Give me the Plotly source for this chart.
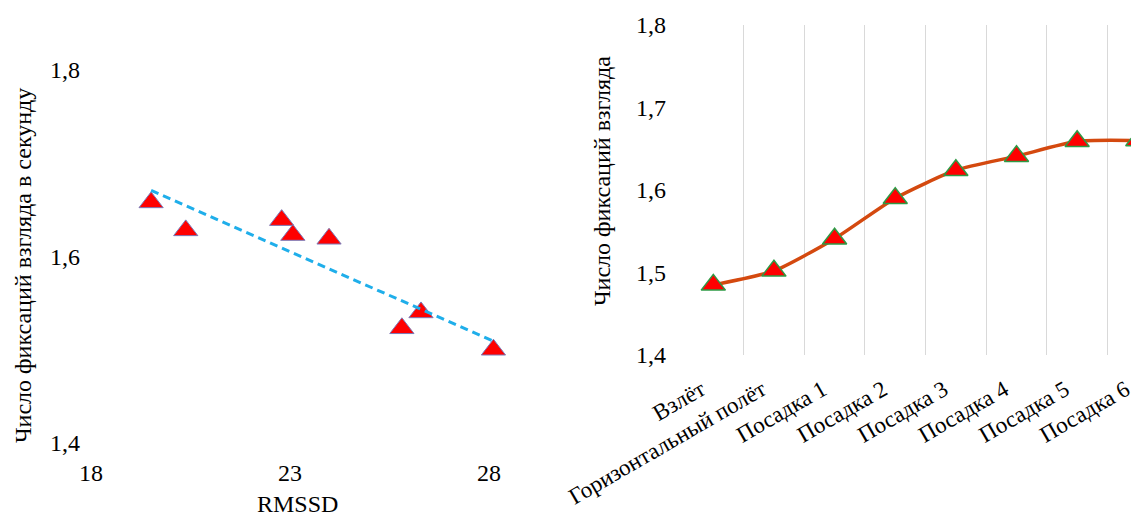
import numpy as np
import plotly.graph_objects as go

# Left chart data
rmssd = [19.51, 20.38, 22.79, 23.07, 23.98, 25.81, 26.29, 28.11]
fixations_per_sec = [1.658, 1.628, 1.639, 1.623, 1.619, 1.523, 1.540, 1.500]

# Right chart data
phases = ["Взлёт", "Горизонтальный полёт", "Посадка 1", "Посадка 2",
          "Посадка 3", "Посадка 4", "Посадка 5", "Посадка 6"]
fixations = [1.485, 1.502, 1.541, 1.590, 1.624, 1.641, 1.659, 1.660]

left_yticks = [1.4, 1.6, 1.8]
left_xticks = [18, 23, 28]
right_yticks = [1.4, 1.5, 1.6, 1.7, 1.8]

def fmt(v):
    return f"{v:g}".replace(".", ",")

# page body has an 8px margin, so the figure is placed at (8, 8)
OFF = 8
W, H = 1139 - OFF, 516 - OFF
FONT = "Liberation Serif"
FS = 24

fig = go.Figure()

fig.add_trace(go.Scatter(
    x=rmssd, y=fixations_per_sec, mode="markers",
    marker=dict(symbol="triangle-up", size=21, color="#FF0000",
                line=dict(color="#7A7AB8", width=1)),
    cliponaxis=False, xaxis="x", yaxis="y", showlegend=False))

coef = np.polyfit(rmssd, fixations_per_sec, 1)
tx = np.array([min(rmssd), max(rmssd)])
fig.add_trace(go.Scatter(
    x=tx, y=np.polyval(coef, tx), mode="lines",
    line=dict(color="#1FAEEA", width=3, dash="8px,5px"),
    xaxis="x", yaxis="y", showlegend=False))

fig.add_trace(go.Scatter(
    x=phases, y=fixations, mode="lines+markers",
    line=dict(color="#D4490F", width=3.5, shape="spline", smoothing=0.6),
    marker=dict(symbol="triangle-up", size=21, color="#FF0000",
                line=dict(color="#2E9A45", width=1.5)),
    cliponaxis=False, xaxis="x2", yaxis="y2", showlegend=False))

def px_x(p):
    return (p - OFF) / W

def px_y(p):
    return 1 - (p - OFF) / H

fig.update_layout(
    width=W, height=H,
    margin=dict(l=0, r=0, t=0, b=0, autoexpand=False),
    paper_bgcolor="white", plot_bgcolor="white",
    font=dict(family=FONT, size=FS, color="#000000"),
    xaxis=dict(domain=[px_x(91), px_x(501)], range=[18, 28.3],
               tickvals=left_xticks, ticktext=[fmt(v) for v in left_xticks],
               showgrid=False, zeroline=False, showline=False, ticks="",
               ticklabelstandoff=13, anchor="y", automargin=False),
    yaxis=dict(domain=[px_y(443), px_y(70)], range=[1.4, 1.8],
               tickvals=left_yticks, ticktext=[fmt(v) for v in left_yticks],
               showgrid=False, zeroline=False, showline=False, ticks="",
               ticklabelstandoff=10, anchor="x", automargin=False),
    xaxis2=dict(domain=[px_x(683), 1.0], range=[-0.5, 7.02],
                type="category", tickson="boundaries",
                showgrid=True, gridcolor="#D9D9D9", gridwidth=1,
                zeroline=False, showline=False, ticks="",
                tickangle=-30, ticklabelstandoff=16, ticklabelshift=-12,
                tickfont=dict(size=23),
                anchor="y2", automargin=False),
    yaxis2=dict(domain=[px_y(355), px_y(25)], range=[1.4, 1.8],
                tickvals=right_yticks, ticktext=[fmt(v) for v in right_yticks],
                showgrid=False, zeroline=False, showline=False, ticks="",
                ticklabelstandoff=16, anchor="x2", automargin=False),
    annotations=[
        dict(text="Число фиксаций взгляда в секунду", x=px_x(23), y=px_y(266),
             xref="paper", yref="paper", textangle=-90, showarrow=False,
             xanchor="center", yanchor="middle", font=dict(size=FS)),
        dict(text="RMSSD", x=px_x(297), y=px_y(504),
             xref="paper", yref="paper", showarrow=False,
             xanchor="center", yanchor="middle", font=dict(size=FS)),
        dict(text="Число фиксаций взгляда", x=px_x(602), y=px_y(181),
             xref="paper", yref="paper", textangle=-90, showarrow=False,
             xanchor="center", yanchor="middle", font=dict(size=FS)),
    ],
)

fig.write_html("out.html")
